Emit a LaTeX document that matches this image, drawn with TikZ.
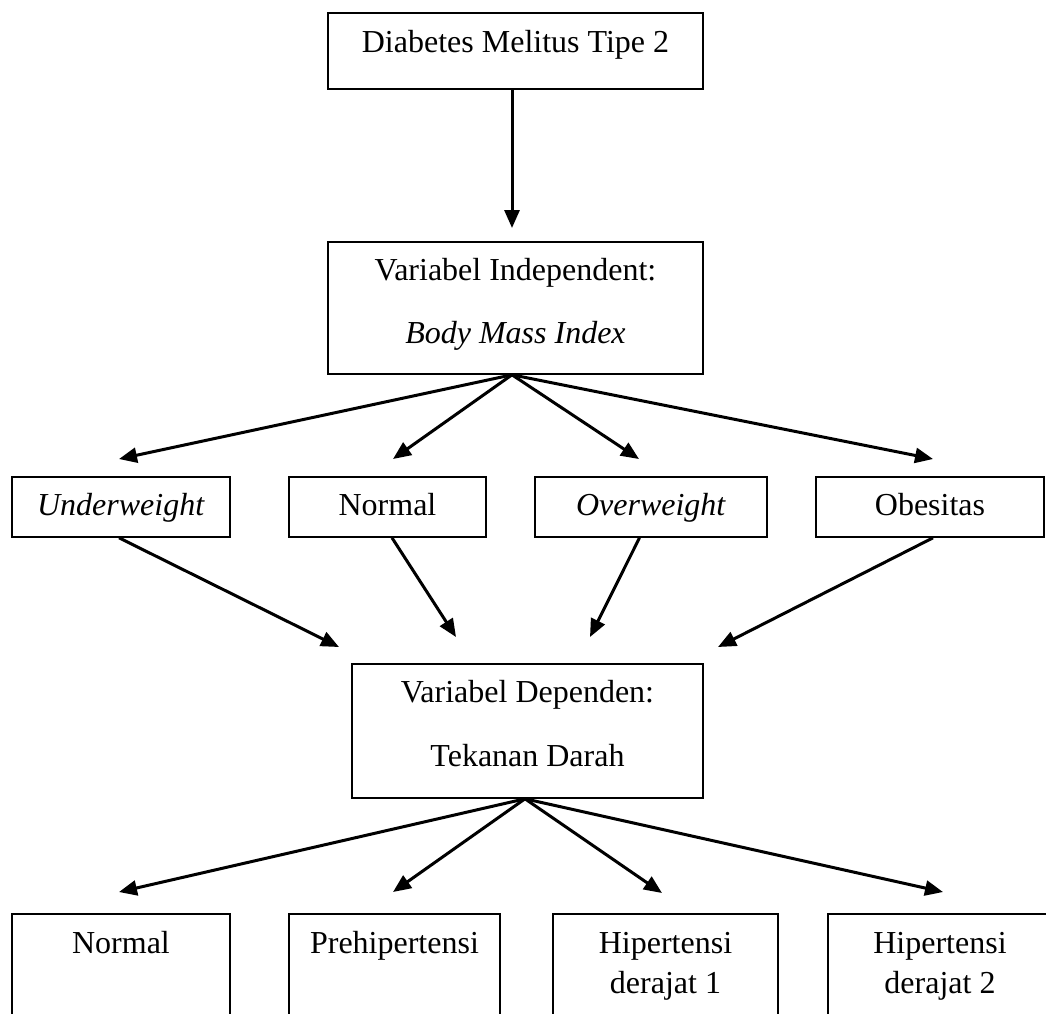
\documentclass[tikz,border=0pt]{standalone}
\usepackage{fontspec}
\setmainfont{Liberation Serif}
\usepackage{tikz}
\usetikzlibrary{arrows.meta}

\tikzset{
    varbox/.style={draw, line width=1.8pt, inner sep=0pt, anchor=north, align=center,
                   font=\fontsize{32}{63}\selectfont},
    rowbox/.style={varbox, text height=39pt, text depth=21pt},
    lowbox/.style={varbox, font=\fontsize{32}{40}\selectfont, text depth=130pt},
    link/.style={line width=3pt, -{Triangle[length=18pt,width=15pt]}}
}

\begin{document}
\begin{tikzpicture}[x=1pt,y=-1pt]
    \useasboundingbox (0,0) rectangle (1046,1013);
    \clip (0,0) rectangle (1046,1013);

    \node[varbox, minimum width=375pt, text height=40pt, text depth=36pt] (dm) at (515.5,12) {Diabetes Melitus Tipe 2};
    \node[varbox, minimum width=375pt, text height=102pt, text depth=30pt] (bmi) at (515.5,241) {Variabel Independent:\\ \textit{Body Mass Index}};

    \node[rowbox, minimum width=218pt] (uw) at (121,476) {\textit{Underweight}};
    \node[rowbox, minimum width=197pt] (nw) at (387.5,476) {Normal};
    \node[rowbox, minimum width=232pt] (ow) at (651,476) {\textit{Overweight}};
    \node[rowbox, minimum width=228pt] (ob) at (930,476) {Obesitas};

    \node[varbox, minimum width=351pt, text height=103pt, text depth=31pt, font=\fontsize{32}{64}\selectfont] (td) at (527.5,663) {Variabel Dependen:\\ Tekanan Darah};

    \node[lowbox, minimum width=218pt, text height=40pt] (tn) at (121,913) {Normal};
    \node[lowbox, minimum width=211pt, text height=40pt] (ph) at (394.5,913) {Prehipertensi};
    \node[lowbox, minimum width=225pt, text height=80pt, text depth=90pt] (h1) at (665.5,913) {Hipertensi\\ derajat 1};
    \node[lowbox, minimum width=224pt, text height=80pt, text depth=90pt] (h2) at (940,913) {Hipertensi\\ derajat 2};

    % arrow tips
    \coordinate (t0) at (512,228);
    \coordinate (a1) at (119,459);
    \coordinate (a2) at (393,459);
    \coordinate (a3) at (639,459);
    \coordinate (a4) at (933,459);
    \coordinate (b1) at (339,647);
    \coordinate (b2) at (456,637);
    \coordinate (b3) at (590,637);
    \coordinate (b4) at (718,647);
    \coordinate (c1) at (119,892);
    \coordinate (c2) at (393,892);
    \coordinate (c3) at (662,893);
    \coordinate (c4) at (943,892);

    \draw[link] ([xshift=-3.5pt]dm.south) -- (t0);

    \draw[link] ([xshift=-3.5pt]bmi.south) -- (a1);
    \draw[link] ([xshift=-3.5pt]bmi.south) -- (a2);
    \draw[link] ([xshift=-3.5pt]bmi.south) -- (a3);
    \draw[link] ([xshift=-3.5pt]bmi.south) -- (a4);

    \draw[link] ([xshift=-2pt]uw.south) -- (b1);
    \draw[link] ([xshift=4.5pt]nw.south) -- (b2);
    \draw[link] ([xshift=-11.5pt]ow.south) -- (b3);
    \draw[link] ([xshift=3pt]ob.south) -- (b4);

    \draw[link] ([xshift=-2.5pt]td.south) -- (c1);
    \draw[link] ([xshift=-2.5pt]td.south) -- (c2);
    \draw[link] ([xshift=-2.5pt]td.south) -- (c3);
    \draw[link] ([xshift=-2.5pt]td.south) -- (c4);
\end{tikzpicture}
\end{document}
